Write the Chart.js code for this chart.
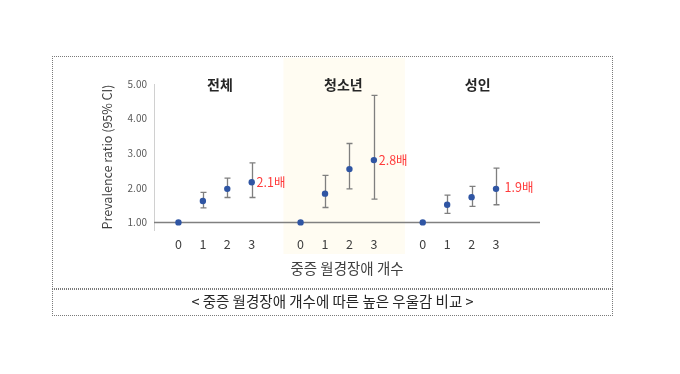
<!DOCTYPE html>
<html>
<head>
<meta charset="utf-8">
<script src="https://cdn.jsdelivr.net/npm/chart.js@4.4.1/dist/chart.umd.min.js"></script>
<style>
  body { margin: 0; background: #fff; font-family: "Noto Sans CJK KR", "Noto Sans", sans-serif; }
  #wrap { position: relative; width: 680px; height: 374px; }
  #wrap canvas { position: absolute; left: 0; top: 0; }
  .box { position: absolute; left: 52px; width: 561px; border: 1px dotted #7a7a7a; box-sizing: border-box; }
  #chartBox { top: 56px; height: 233px; }
  #captionBox { top: 289px; height: 27px; text-align: center; font-size: 14.5px; line-height: 21px; color: #262626; }
</style>
</head>
<body>
<div id="wrap">
  <canvas id="prChart" width="680" height="374"></canvas>
  <div class="box" id="chartBox"></div>
  <div class="box" id="captionBox">&lt; 중증 월경장애 개수에 따른 높은 우울감 비교 &gt;</div>
</div>
<script>
// categories: number of severe menstrual disorders, per group
const categories = ['0', '1', '2', '3'];
const groups = ['전체', '청소년', '성인'];

// prevalence ratio and 95% CI
const ratioAll = [1.00, 1.62, 1.97, 2.16];
const lowAll = [1.00, 1.42, 1.72, 1.72];
const highAll = [1.00, 1.87, 2.28, 2.72];

const ratioTeen = [1.00, 1.83, 2.54, 2.80];
const lowTeen = [1.00, 1.43, 1.97, 1.67];
const highTeen = [1.00, 2.36, 3.28, 4.67];

const ratioAdult = [1.00, 1.51, 1.73, 1.97];
const lowAdult = [1.00, 1.26, 1.46, 1.51];
const highAdult = [1.00, 1.79, 2.04, 2.57];

const yTicks = [1, 2, 3, 4, 5];
const ratioLabels = ['2.1배', '2.8배', '1.9배'];

// x offset of each group on the linear axis (gap of one slot between groups)
const groupStart = [0, 5, 10];
const groupTitleX = [1.7, 6.75, 12.25];
const ratioLabelX = [3.2, 8.2, 13.35];
const ratioLabelY = [2.16, 2.80, 2.03];

const ratios = [ratioAll, ratioTeen, ratioAdult];
const lows = [lowAll, lowTeen, lowAdult];
const highs = [highAll, highTeen, highAdult];

const points = [];
const xPositions = [];
groups.forEach((g, gi) => {
  categories.forEach((c, ci) => {
    const x = groupStart[gi] + ci;
    xPositions.push(x);
    points.push({ x: x, y: ratios[gi][ci], lo: lows[gi][ci], hi: highs[gi][ci] });
  });
});

Chart.defaults.font.family = '"Noto Sans CJK KR", "Noto Sans", sans-serif';

const bandPlugin = {
  id: 'band',
  beforeDraw(chart) {
    const { ctx, scales: { x } } = chart;
    ctx.save();
    ctx.fillStyle = '#FFFCF2';
    const x0 = x.getPixelForValue(4.3), x1 = x.getPixelForValue(9.27);
    ctx.fillRect(x0, 58, x1 - x0, 196);
    ctx.restore();
  }
};

const errorBarPlugin = {
  id: 'errorBars',
  beforeDatasetsDraw(chart) {
    const { ctx, chartArea, scales: { x, y } } = chart;
    ctx.save();
    // reference line at ratio 1
    ctx.strokeStyle = '#808080';
    ctx.lineWidth = 1.4;
    const y1 = Math.round(y.getPixelForValue(1)) + 0.5;
    ctx.beginPath();
    ctx.moveTo(chartArea.left, y1);
    ctx.lineTo(chartArea.right, y1);
    ctx.stroke();

    ctx.strokeStyle = '#7F7F7F';
    ctx.lineWidth = 1.3;
    points.forEach(p => {
      if (p.lo === p.hi) return;
      const px = Math.round(x.getPixelForValue(p.x)) + 0.5;
      const pLo = y.getPixelForValue(p.lo), pHi = y.getPixelForValue(p.hi);
      ctx.beginPath();
      ctx.moveTo(px, pLo); ctx.lineTo(px, pHi);
      ctx.moveTo(px - 3, pLo); ctx.lineTo(px + 3, pLo);
      ctx.moveTo(px - 3, pHi); ctx.lineTo(px + 3, pHi);
      ctx.stroke();
    });
    ctx.restore();
  }
};

const labelPlugin = {
  id: 'labels',
  afterDraw(chart) {
    const { ctx, scales: { x, y } } = chart;
    ctx.save();
    ctx.textBaseline = 'middle';
    ctx.textAlign = 'center';
    ctx.fillStyle = '#262626';
    ctx.font = 'bold 14px "Noto Sans CJK KR", sans-serif';
    groups.forEach((g, i) => ctx.fillText(g, x.getPixelForValue(groupTitleX[i]), 85));

    ctx.textAlign = 'left';
    ctx.fillStyle = '#FF3B3B';
    ctx.font = '12.5px "Noto Sans CJK KR", sans-serif';
    ratioLabels.forEach((t, i) => ctx.fillText(t, x.getPixelForValue(ratioLabelX[i]), y.getPixelForValue(ratioLabelY[i])));
    ctx.restore();
  }
};

new Chart(document.getElementById('prChart'), {
  type: 'scatter',
  data: {
    datasets: [{
      data: points,
      pointRadius: 3.2,
      pointBackgroundColor: '#2F55A3',
      pointBorderWidth: 0,
      showLine: false
    }]
  },
  options: {
    responsive: false,
    animation: false,
    layout: { padding: { top: 84, right: 140, left: 0, bottom: 0 } },
    plugins: { legend: { display: false }, tooltip: { enabled: false } },
    scales: {
      x: {
        type: 'linear',
        min: -1,
        max: 14.8,
        grid: { display: false, drawTicks: false },
        border: { display: false },
        afterBuildTicks: axis => { axis.ticks = xPositions.map(v => ({ value: v })); },
        afterFit: scale => { scale.height = 144; },
        ticks: {
          autoSkip: false,
          maxRotation: 0,
          padding: 7,
          color: '#404040',
          font: { size: 12.5 },
          callback: v => categories[v % 5]
        },
        title: {
          display: true,
          text: '중증 월경장애 개수',
          color: '#404040',
          font: { size: 14.5 },
          padding: { top: 0, bottom: 97 }
        }
      },
      y: {
        min: 0.78,
        max: 5,
        grid: { display: false, drawTicks: false },
        border: { color: '#D0D0D0', width: 1 },
        afterBuildTicks: axis => { axis.ticks = yTicks.map(v => ({ value: v })); },
        afterFit: scale => { scale.width = 154; },
        ticks: {
          padding: 7,
          color: '#595959',
          font: { size: 10 },
          callback: v => v.toFixed(2)
        },
        title: {
          display: true,
          text: 'Prevalence ratio (95% CI)',
          color: '#404040',
          font: { size: 12.5 },
          padding: { top: 100, bottom: 0 }
        }
      }
    }
  },
  plugins: [bandPlugin, errorBarPlugin, labelPlugin]
});
</script>
</body>
</html>
